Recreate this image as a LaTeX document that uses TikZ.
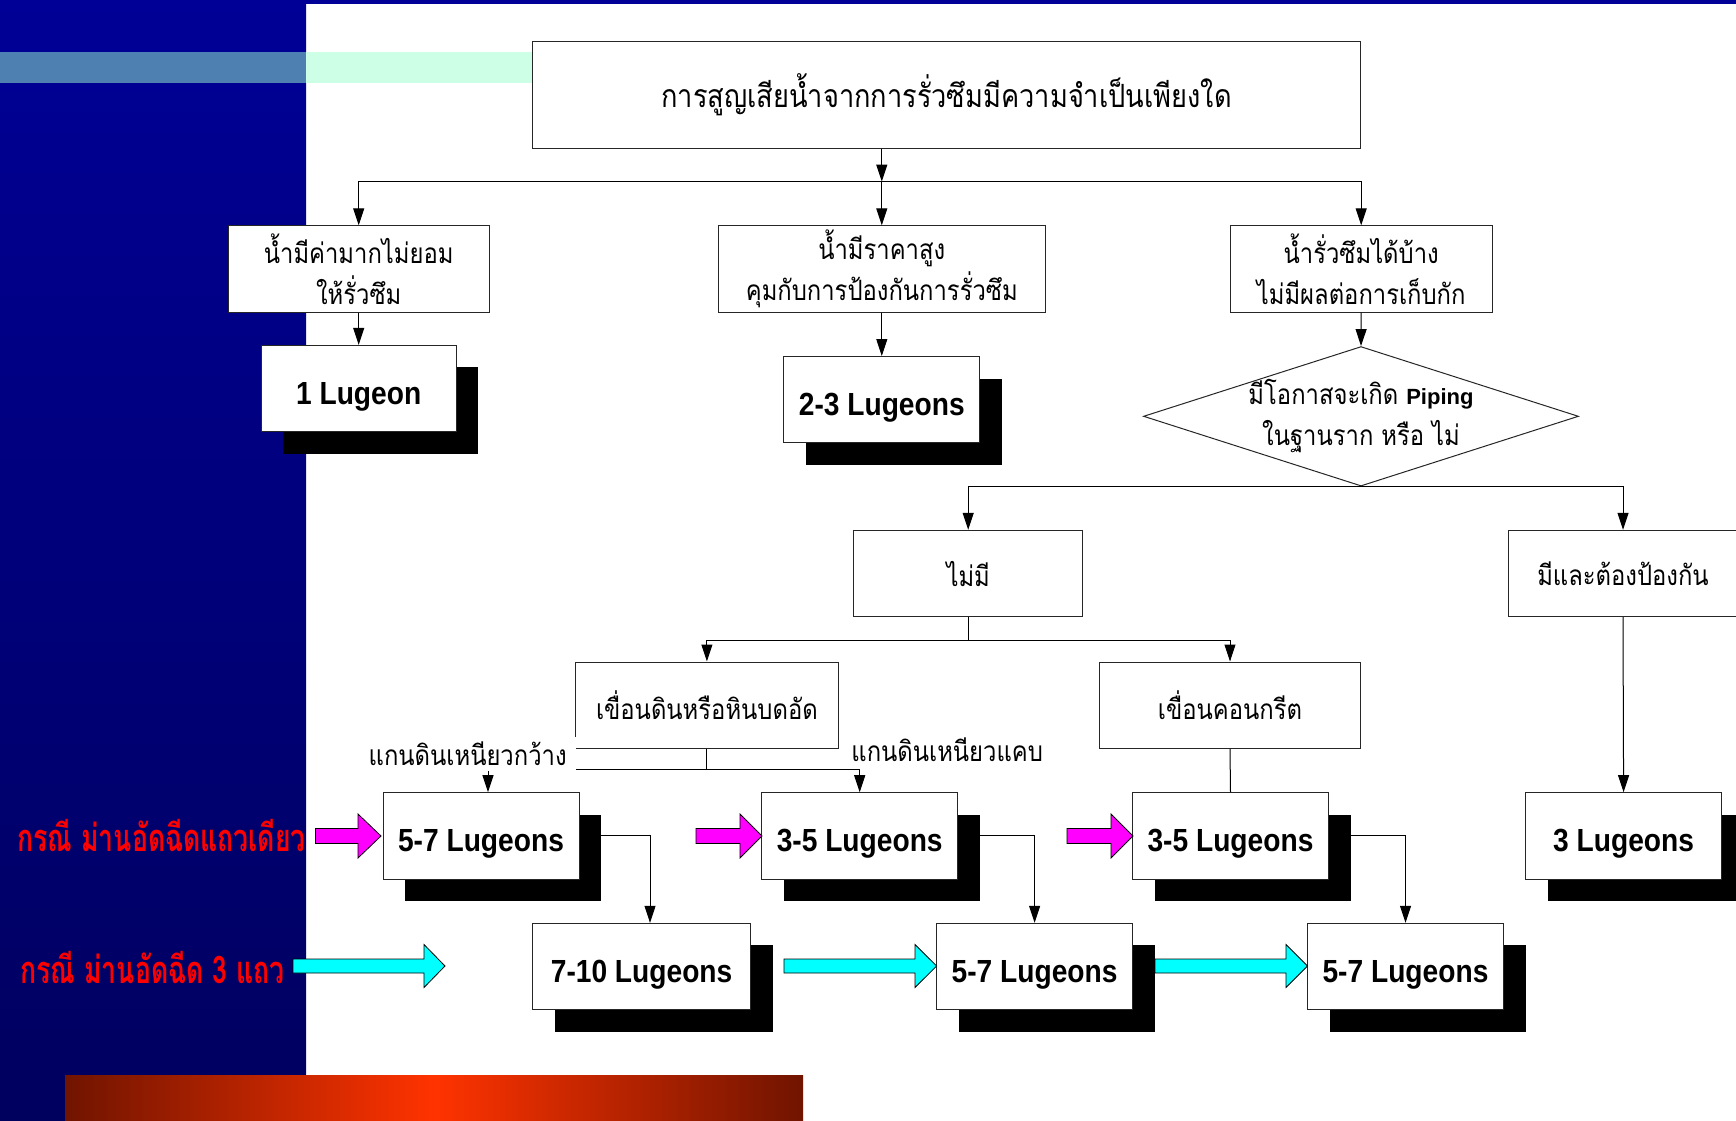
\documentclass[tikz,border=0pt]{standalone}
\usepackage{fontspec}
\setmainfont{Liberation Sans}
\newfontfamily\thai[Script=Thai,FakeStretch=0.85]{Loma}
\newfontfamily\thaired[Script=Thai,FakeStretch=0.7]{Loma}
\newfontfamily\lugfont[FakeStretch=0.88]{Liberation Sans}
\usetikzlibrary{arrows.meta,shapes.geometric,shadows}
\definecolor{navytop}{RGB}{0,0,150}
\definecolor{navybot}{RGB}{0,0,95}
\definecolor{steel}{RGB}{78,128,178}
\definecolor{mint}{RGB}{204,255,230}
\definecolor{darkred}{RGB}{112,20,0}
\definecolor{brightred}{RGB}{255,51,0}
\definecolor{pmag}{RGB}{255,0,255}
\definecolor{pcyan}{RGB}{0,255,255}
\definecolor{pred}{RGB}{255,0,0}
\newcommand\blkarrow[7]{\draw[line width=0.4pt, fill=#7] (#1,#4-#5) -- (#2,#4-#5) -- (#2,#4-#6) -- (#3,#4) -- (#2,#4+#6) -- (#2,#4+#5) -- (#1,#4+#5) -- cycle;}
\begin{document}
\begin{tikzpicture}[x=0.5pt,y=-0.5pt,
  base/.style={draw=black!85, line width=0.5pt, fill=white, inner sep=0pt, align=center},
  thaibox/.style={base, font=\thai\fontsize{14}{20.5}\selectfont, minimum height=43.2pt},
  lugbox/.style={base, font=\lugfont\bfseries\fontsize{16}{18}\selectfont, text depth=0pt, text height=15.5pt, minimum width=98pt, minimum height=43.2pt,
     drop shadow={shadow xshift=11pt, shadow yshift=-11pt, opacity=1, fill=black}},
  arr/.style={-{Triangle[length=8.5pt,width=5.5pt]}, line width=0.5pt},
  conn/.style={line width=0.5pt},
  lbl/.style={font=\thai\fontsize{14}{16}\selectfont, inner sep=0pt},
  redlbl/.style={font=\thaired\bfseries\fontsize{19}{22}\selectfont, text=pred, inner sep=0pt, anchor=west}
]
\useasboundingbox (0,0) rectangle (1736,1120);
% background
\fill[white] (0,0) rectangle (1736,1120);
\shade[top color=navytop, bottom color=navybot] (0,0) rectangle (306,1120);
\fill[navytop] (0,0) rectangle (1736,4);
\fill[steel] (0,52) rectangle (306,83);
\fill[mint] (306,52) rectangle (533,83);
\shade[left color=darkred, right color=darkred, middle color=brightred] (65,1075) rectangle (803,1120);

% nodes
\node[thaibox, minimum width=414pt, minimum height=53.7pt, font=\thai\fontsize{16}{18}\selectfont] (main) at (946.5,94.7) {การสูญเสียน้ำจากการรั่วซึมมีความจำเป็นเพียงใด};
\node[thaibox, minimum width=130.6pt] (b1) at (358.7,269) {น้ำมีค่ามากไม่ยอม\\ให้รั่วซึม};
\node[thaibox, minimum width=163.3pt] (b2) at (881.8,269) {น้ำมีราคาสูง\\คุมกับการป้องกันการรั่วซึม};
\node[thaibox, minimum width=131.2pt] (b3) at (1361.2,269) {น้ำรั่วซึมได้บ้าง\\ไม่มีผลต่อการเก็บกัก};
\node[lugbox, minimum width=97.5pt] (l1) at (358.7,388.6) {1 Lugeon};
\node[lugbox] (l2) at (881.8,399.7) {2-3 Lugeons};
\node[diamond, draw=black!85, line width=0.5pt, fill=white, inner sep=0pt, minimum width=217.5pt, minimum height=69.75pt] (dia) at (1361,416.3) {};
\node[font=\thai\fontsize{14}{20.5}\selectfont, align=center, inner sep=0pt] (diatext) at (dia.center) {มีโอกาสจะเกิด {\rmfamily\bfseries\fontsize{11}{13}\selectfont Piping}\\ในฐานราก หรือ ไม่};
\node[thaibox, minimum width=114.6pt] (nomi) at (968.2,573.5) {ไม่มี};
\node[thaibox, minimum width=115pt] (mi) at (1623,573.5) {มีและต้องป้องกัน};
\node[thaibox, minimum width=131.2pt] (earth) at (706.9,705.2) {เขื่อนดินหรือหินบดอัด};
\node[thaibox, minimum width=130.6pt] (conc) at (1230,705.2) {เขื่อนคอนกรีต};
\node[lugbox] (u1) at (481,835.9) {5-7 Lugeons};
\node[lugbox] (u2) at (859.7,835.9) {3-5 Lugeons};
\node[lugbox] (u3) at (1230.5,835.9) {3-5 Lugeons};
\node[lugbox] (u4) at (1623.6,835.9) {3 Lugeons};
\node[lugbox, minimum width=109pt] (d1) at (641.6,966.5) {7-10 Lugeons};
\node[lugbox] (d2) at (1034.6,966.5) {5-7 Lugeons};
\node[lugbox] (d3) at (1405.5,966.5) {5-7 Lugeons};

% connectors
\coordinate (j1) at (881.8,181.6);
\coordinate (j3) at (968.2,640);
\coordinate (j4) at (706.9,769.4);
\draw[arr] (main.south -| j1) -- (j1);
\draw[arr] (j1) -- (b2.north);
\draw[arr] (j1) -| (b1.north);
\draw[arr] (j1) -| (b3.north);
\draw[arr] (b1.south) -- (l1.north);
\draw[arr] (b2.south) -- (l2.north);
\draw[arr] (b3.south) -- (dia.north);
\draw[arr] (dia.south) -| (nomi.north);
\draw[arr] (dia.south) -| (mi.north);
\draw[conn] (nomi.south) -- (j3);
\draw[arr] (j3) -| (earth.north);
\draw[arr] (j3) -| (conc.north);
\draw[conn] (earth.south) -- (j4);
\draw[arr] (j4) -| ([xshift=3.5pt]u1.north);
\draw[arr] (j4) -| (u2.north);
\draw[conn] (conc.south) -- (u3.north);
\draw[arr] (mi.south) -- (u4.north);
\draw[arr] (u1.east) -| ([xshift=4.2pt]d1.north);
\draw[arr] (u2.east) -| (d2.north);
\draw[arr] (u3.east) -| (d3.north);

% labels
\node[lbl, fill=white, anchor=east, inner xsep=4.5pt, minimum height=17pt] (lwide) at (576,754) {แกนดินเหนียวกว้าง};
\node[lbl, anchor=west] (lnarrow) at (851,749.5) {แกนดินเหนียวแคบ};
\node[redlbl] (r1) at (17,836) {กรณี ม่านอัดฉีดแถวเดียว};
\node[redlbl] (r2) at (20,968) {กรณี ม่านอัดฉีด 3 แถว};

% block arrows
\blkarrow{315.5}{358}{381}{836}{7.5}{22}{pmag}
\blkarrow{696}{740}{762}{836}{7.5}{22}{pmag}
\blkarrow{1067}{1111}{1133}{836}{7.5}{22}{pmag}
\blkarrow{293}{424}{445}{966}{7}{21.5}{pcyan}
\blkarrow{784}{915}{936.6}{966}{7}{21.5}{pcyan}
\blkarrow{1155}{1286}{1307.5}{966}{7}{21.5}{pcyan}
\end{tikzpicture}
\end{document}
